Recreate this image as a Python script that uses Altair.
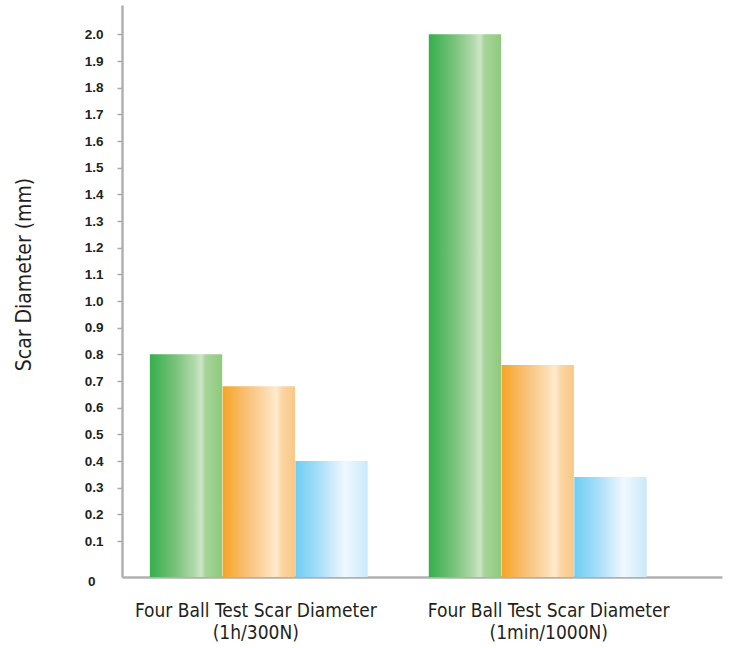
import altair as alt
import pandas as pd

# ---- data ----
categories = [
    "Four Ball Test Scar Diameter|(1h/300N)",
    "Four Ball Test Scar Diameter|(1min/1000N)",
]
series = ["Green", "Orange", "Blue"]
values_green = [0.80, 2.00]
values_orange = [0.68, 0.76]
values_blue = [0.40, 0.34]
y_ticks = [0, 0.1, 0.2, 0.3, 0.4, 0.5, 0.6, 0.7, 0.8, 0.9, 1.0,
           1.1, 1.2, 1.3, 1.4, 1.5, 1.6, 1.7, 1.8, 1.9, 2.0]

rows = []
for s, vals in zip(series, [values_green, values_orange, values_blue]):
    for c, v in zip(categories, vals):
        rows.append({"category": c, "series": s, "value": v})
df = pd.DataFrame(rows)

gradients = {
    "Green": [("#34b04c", 0.0), ("#78c27a", 0.35), ("#b2daab", 0.62),
              ("#cde6c8", 0.71), ("#a6d49a", 0.77), ("#8fca7c", 1.0)],
    "Orange": [("#f6a524", 0.0), ("#f9c27a", 0.35), ("#fcdcb0", 0.62),
               ("#feeacf", 0.74), ("#fbd6a3", 0.82), ("#f9c785", 1.0)],
    "Blue": [("#6dcef5", 0.0), ("#a6def8", 0.32), ("#dcf0fc", 0.58),
             ("#eff8fe", 0.68), ("#e2f3fd", 0.8), ("#cbe9fa", 1.0)],
}

BASE = -0.035
NARROW = "Liberation Sans Narrow, DejaVu Sans Condensed, sans-serif"

x_enc = alt.X(
    "category:N",
    sort=categories,
    scale=alt.Scale(domain=categories, paddingInner=0.219, paddingOuter=0.185, align=0.27),
    axis=alt.Axis(
        title=None,
        labelExpr="split(datum.label, '|')",
        labelFont=NARROW,
        labelFontSize=19,
        labelColor="#231f20",
        labelLineHeight=22,
        labelPadding=24,
        labelAngle=0,
        labelLimit=500,
        labelOffset={"condition": {"test": f"datum.value === '{categories[1]}'", "value": 11}, "value": -3},
        ticks=False,
        domainColor="#b0b0b0",
        domainWidth=2.5,
    ),
)

y_enc = alt.Y(
    "value:Q",
    scale=alt.Scale(domain=[BASE, 2.11], nice=False, zero=False),
    axis=alt.Axis(
        values=y_ticks,
        title="Scar Diameter (mm)",
        titleFont=NARROW,
        titleFontSize=21,
        titleFontWeight="normal",
        titleColor="#231f20",
        titleAngle=270,
        titleX=-92,
        titleY=269,
        titleAlign="center",
        titleBaseline="alphabetic",
        labelExpr="datum.value === 0 ? '0' : format(datum.value, '.1f')",
        labelFont="Liberation Sans, Arial, sans-serif",
        labelFontWeight="bold",
        labelFontSize=13.5,
        labelColor="#231f20",
        labelPadding={"condition": {"test": "datum.value === 0", "value": 22}, "value": 14},
        labelOffset={"condition": {"test": "datum.value === 0", "value": 14}, "value": 0},
        tickOpacity={"condition": {"test": "datum.value === 0", "value": 0}, "value": 1},
        labelOverlap=False,
        labelFlush=False,
        tickSize=5,
        tickColor="#a8a8a8",
        tickWidth=1.5,
        domainColor="#b0b0b0",
        domainWidth=2.5,
        grid=False,
    ),
)

xoff = alt.XOffset("series:N", scale=alt.Scale(domain=series, paddingInner=0.006, paddingOuter=0))

layers = []
for s in series:
    grad = alt.Gradient(
        gradient="linear", x1=0, x2=1, y1=0, y2=0,
        stops=[alt.GradientStop(color=c, offset=o) for c, o in gradients[s]],
    )
    layers.append(
        alt.Chart(df)
        .transform_filter(alt.datum.series == s)
        .mark_bar(fill=grad, strokeWidth=0)
        .encode(x=x_enc, xOffset=xoff, y=y_enc, y2=alt.datum(BASE))
    )

chart = (
    alt.layer(*layers)
    .properties(
        width=600,
        height=572,
        autosize=alt.AutoSizeParams(type="none"),
        padding={"left": 122, "top": 5, "right": 21, "bottom": 71},
        background="white",
    )
    .configure_view(strokeOpacity=0)
)

chart.save("out.html", embed_options={"renderer": "svg", "actions": False})
